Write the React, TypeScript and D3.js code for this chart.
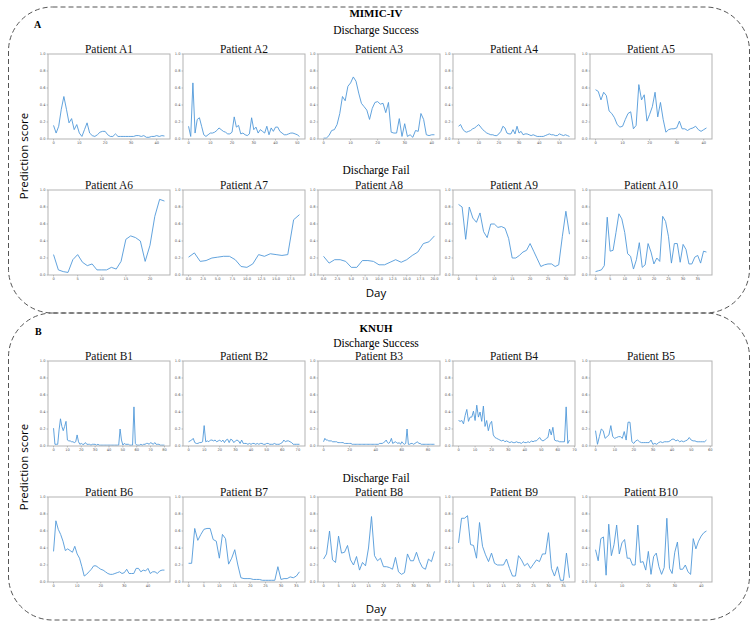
import * as d3 from "d3";

// Daily prediction scores, one array per patient
// MIMIC-IV, discharge success
const a1 = [0.16, 0.07, 0.15, 0.35, 0.5, 0.35, 0.19, 0.24, 0.11, 0.17, 0.07, 0.03, 0.11, 0.19, 0.07, 0.04, 0.03, 0.05, 0.08, 0.09, 0.09, 0.05, 0.03, 0.03, 0.06, 0.03, 0.03, 0.03, 0.03, 0.03, 0.03, 0.03, 0.04, 0.04, 0.03, 0.04, 0.02, 0.02, 0.03, 0.03, 0.04, 0.03, 0.04, 0.035];
const a2 = [0.15, 0.03, 0.66, 0.07, 0.23, 0.25, 0.15, 0.05, 0.03, 0.05, 0.07, 0.07, 0.08, 0.1, 0.13, 0.11, 0.09, 0.08, 0.06, 0.06, 0.08, 0.26, 0.14, 0.16, 0.06, 0.07, 0.05, 0.04, 0.06, 0.25, 0.11, 0.14, 0.07, 0.11, 0.09, 0.07, 0.15, 0.05, 0.13, 0.09, 0.14, 0.14, 0.09, 0.07, 0.05, 0.05, 0.06, 0.07, 0.07, 0.06, 0.05, 0.03];
const a3 = [0.01, 0.01, 0.04, 0.1, 0.11, 0.17, 0.3, 0.5, 0.45, 0.62, 0.66, 0.73, 0.68, 0.54, 0.42, 0.38, 0.34, 0.23, 0.36, 0.43, 0.44, 0.41, 0.42, 0.31, 0.43, 0.08, 0.07, 0.07, 0.24, 0.03, 0.18, 0.03, 0.05, 0.02, 0.1, 0.09, 0.3, 0.23, 0.05, 0.04, 0.05, 0.05];
const a4 = [0.15, 0.17, 0.12, 0.09, 0.08, 0.09, 0.1, 0.12, 0.13, 0.15, 0.17, 0.14, 0.11, 0.09, 0.07, 0.06, 0.05, 0.05, 0.04, 0.04, 0.06, 0.09, 0.15, 0.13, 0.07, 0.06, 0.06, 0.11, 0.06, 0.15, 0.07, 0.09, 0.05, 0.06, 0.06, 0.05, 0.04, 0.05, 0.04, 0.03, 0.03, 0.03, 0.03, 0.04, 0.05, 0.06, 0.05, 0.05, 0.04, 0.04, 0.06, 0.05, 0.04, 0.05, 0.04, 0.03];
const a5 = [0.58, 0.56, 0.46, 0.55, 0.51, 0.33, 0.3, 0.25, 0.17, 0.14, 0.15, 0.23, 0.3, 0.32, 0.12, 0.16, 0.64, 0.46, 0.52, 0.21, 0.29, 0.38, 0.55, 0.26, 0.43, 0.23, 0.08, 0.11, 0.12, 0.12, 0.13, 0.21, 0.12, 0.12, 0.1, 0.12, 0.13, 0.15, 0.11, 0.09, 0.11, 0.13];
// MIMIC-IV, discharge fail
const a6 = [0.24, 0.06, 0.04, 0.03, 0.18, 0.24, 0.15, 0.11, 0.13, 0.06, 0.06, 0.06, 0.09, 0.07, 0.16, 0.42, 0.46, 0.44, 0.4, 0.16, 0.35, 0.69, 0.89, 0.87];
const a7 = [0.21, 0.26, 0.16, 0.17, 0.2, 0.21, 0.22, 0.22, 0.18, 0.1, 0.09, 0.13, 0.24, 0.22, 0.25, 0.24, 0.23, 0.24, 0.65, 0.71];
const a8 = [0.22, 0.14, 0.18, 0.18, 0.16, 0.09, 0.09, 0.17, 0.17, 0.16, 0.12, 0.12, 0.15, 0.18, 0.15, 0.18, 0.23, 0.27, 0.37, 0.39, 0.46];
const a9 = [0.83, 0.8, 0.42, 0.8, 0.67, 0.62, 0.73, 0.51, 0.44, 0.6, 0.6, 0.56, 0.57, 0.55, 0.43, 0.2, 0.2, 0.23, 0.27, 0.29, 0.37, 0.28, 0.19, 0.1, 0.12, 0.13, 0.13, 0.1, 0.12, 0.45, 0.75, 0.48];
const a10 = [0.04, 0.05, 0.06, 0.11, 0.68, 0.28, 0.29, 0.5, 0.72, 0.66, 0.5, 0.25, 0.22, 0.07, 0.18, 0.38, 0.09, 0.12, 0.37, 0.27, 0.13, 0.2, 0.16, 0.69, 0.63, 0.45, 0.14, 0.37, 0.37, 0.15, 0.36, 0.3, 0.13, 0.13, 0.21, 0.23, 0.14, 0.28, 0.27];
// KNUH, discharge success
const b1 = [0.21, 0.02, 0.02, 0.02, 0.19, 0.32, 0.23, 0.18, 0.23, 0.29, 0.07, 0.06, 0.06, 0.05, 0.05, 0.04, 0.05, 0.13, 0.05, 0.02, 0.03, 0.02, 0.02, 0.04, 0.02, 0.02, 0.02, 0.01, 0.02, 0.02, 0.02, 0.01, 0.02, 0.01, 0.01, 0.01, 0.01, 0.01, 0.01, 0.01, 0.01, 0.01, 0.01, 0.01, 0.01, 0.01, 0.01, 0.01, 0.2, 0.07, 0.01, 0.03, 0.02, 0.02, 0.02, 0.01, 0.01, 0.01, 0.46, 0.03, 0.01, 0.01, 0.01, 0.02, 0.01, 0.02, 0.02, 0.03, 0.03, 0.02, 0.04, 0.03, 0.02, 0.04, 0.02, 0.02, 0.02, 0.01, 0.01, 0.01, 0.01];
const b2 = [0.05, 0.06, 0.07, 0.09, 0.04, 0.03, 0.03, 0.04, 0.04, 0.05, 0.24, 0.05, 0.06, 0.05, 0.07, 0.07, 0.06, 0.07, 0.05, 0.06, 0.07, 0.05, 0.07, 0.04, 0.07, 0.08, 0.04, 0.08, 0.07, 0.04, 0.06, 0.07, 0.06, 0.03, 0.07, 0.03, 0.03, 0.03, 0.02, 0.03, 0.02, 0.03, 0.03, 0.02, 0.03, 0.02, 0.03, 0.03, 0.02, 0.02, 0.03, 0.03, 0.02, 0.02, 0.02, 0.03, 0.02, 0.02, 0.02, 0.03, 0.04, 0.07, 0.05, 0.06, 0.06, 0.05, 0.04, 0.02, 0.02, 0.02, 0.02, 0.02];
const b3 = [0.05, 0.09, 0.07, 0.07, 0.06, 0.06, 0.06, 0.05, 0.05, 0.05, 0.05, 0.04, 0.04, 0.04, 0.04, 0.04, 0.03, 0.03, 0.03, 0.03, 0.03, 0.03, 0.02, 0.02, 0.02, 0.02, 0.02, 0.02, 0.02, 0.02, 0.02, 0.02, 0.02, 0.02, 0.02, 0.02, 0.02, 0.02, 0.02, 0.02, 0.02, 0.02, 0.02, 0.03, 0.03, 0.03, 0.04, 0.05, 0.07, 0.04, 0.03, 0.05, 0.09, 0.03, 0.04, 0.05, 0.04, 0.03, 0.04, 0.02, 0.05, 0.03, 0.02, 0.03, 0.2, 0.02, 0.02, 0.03, 0.03, 0.02, 0.03, 0.04, 0.05, 0.03, 0.03, 0.02, 0.02, 0.02, 0.02, 0.02, 0.02, 0.02, 0.02, 0.02, 0.02, 0.02];
const b4 = [0.3, 0.29, 0.3, 0.26, 0.36, 0.43, 0.29, 0.34, 0.34, 0.41, 0.3, 0.48, 0.34, 0.4, 0.29, 0.47, 0.23, 0.3, 0.18, 0.26, 0.29, 0.13, 0.1, 0.09, 0.08, 0.07, 0.06, 0.07, 0.05, 0.06, 0.05, 0.04, 0.05, 0.04, 0.04, 0.05, 0.04, 0.04, 0.03, 0.05, 0.04, 0.04, 0.05, 0.04, 0.06, 0.05, 0.06, 0.06, 0.08, 0.1, 0.07, 0.06, 0.07, 0.09, 0.1, 0.2, 0.13, 0.22, 0.07, 0.06, 0.06, 0.05, 0.05, 0.05, 0.05, 0.46, 0.03, 0.07];
const b5 = [0.18, 0.02, 0.11, 0.2, 0.18, 0.09, 0.11, 0.13, 0.24, 0.11, 0.09, 0.1, 0.11, 0.11, 0.09, 0.17, 0.07, 0.28, 0.28, 0.05, 0.03, 0.06, 0.07, 0.05, 0.04, 0.04, 0.04, 0.04, 0.04, 0.07, 0.02, 0.03, 0.02, 0.04, 0.05, 0.04, 0.05, 0.05, 0.05, 0.06, 0.08, 0.08, 0.06, 0.07, 0.05, 0.06, 0.05, 0.06, 0.07, 0.1, 0.07, 0.06, 0.06, 0.05, 0.05, 0.05, 0.05, 0.05, 0.07];
// KNUH, discharge fail
const b6 = [0.36, 0.72, 0.62, 0.56, 0.48, 0.37, 0.39, 0.37, 0.35, 0.42, 0.33, 0.28, 0.18, 0.07, 0.09, 0.12, 0.15, 0.19, 0.19, 0.17, 0.15, 0.14, 0.12, 0.1, 0.09, 0.09, 0.1, 0.11, 0.12, 0.1, 0.11, 0.15, 0.1, 0.1, 0.1, 0.16, 0.16, 0.12, 0.14, 0.13, 0.16, 0.1, 0.12, 0.12, 0.1, 0.13, 0.14, 0.14];
const b7 = [0.22, 0.22, 0.63, 0.49, 0.56, 0.62, 0.63, 0.63, 0.5, 0.48, 0.28, 0.56, 0.51, 0.21, 0.28, 0.38, 0.2, 0.05, 0.04, 0.04, 0.04, 0.03, 0.03, 0.03, 0.02, 0.02, 0.02, 0.02, 0.02, 0.18, 0.03, 0.04, 0.04, 0.06, 0.05, 0.07, 0.12];
const b8 = [0.27, 0.33, 0.6, 0.26, 0.23, 0.54, 0.34, 0.35, 0.43, 0.26, 0.2, 0.3, 0.14, 0.23, 0.19, 0.4, 0.77, 0.31, 0.25, 0.28, 0.18, 0.18, 0.17, 0.15, 0.29, 0.12, 0.09, 0.11, 0.33, 0.25, 0.25, 0.35, 0.24, 0.17, 0.15, 0.27, 0.24, 0.36];
const b9 = [0.46, 0.75, 0.75, 0.78, 0.44, 0.43, 0.28, 0.7, 0.42, 0.32, 0.24, 0.34, 0.22, 0.2, 0.2, 0.2, 0.27, 0.16, 0.07, 0.07, 0.31, 0.26, 0.19, 0.22, 0.16, 0.21, 0.26, 0.24, 0.33, 0.33, 0.58, 0.16, 0.07, 0.18, 0.02, 0.02, 0.34, 0.05];
const b10 = [0.38, 0.25, 0.51, 0.53, 0.08, 0.68, 0.31, 0.44, 0.67, 0.33, 0.46, 0.5, 0.28, 0.28, 0.2, 0.2, 0.67, 0.23, 0.24, 0.14, 0.36, 0.09, 0.3, 0.34, 0.18, 0.09, 0.17, 0.75, 0.16, 0.1, 0.35, 0.47, 0.15, 0.15, 0.2, 0.12, 0.09, 0.51, 0.39, 0.48, 0.54, 0.58, 0.6];

// x-axis tick values per subplot
const ticksTo40 = [0, 10, 20, 30, 40];
const ticksTo50 = [0, 10, 20, 30, 40, 50];
const ticksTo60 = [0, 10, 20, 30, 40, 50, 60];
const ticksTo70 = [0, 10, 20, 30, 40, 50, 60, 70];
const ticksTo80 = [0, 10, 20, 30, 40, 50, 60, 70, 80];
const ticksBy20 = [0, 20, 40, 60, 80];
const ticksBy5To20 = [0, 5, 10, 15, 20];
const ticksBy5To30 = [0, 5, 10, 15, 20, 25, 30];
const ticksBy5To35 = [0, 5, 10, 15, 20, 25, 30, 35];
const ticksHalf175 = [0, 2.5, 5, 7.5, 10, 12.5, 15, 17.5];
const ticksHalf20 = [0, 2.5, 5, 7.5, 10, 12.5, 15, 17.5, 20];

type PanelDef = { title: string; values: number[]; ticks: number[]; decimal?: boolean };

const rowA1: PanelDef[] = [
  { title: "Patient A1", values: a1, ticks: ticksTo40 },
  { title: "Patient A2", values: a2, ticks: ticksTo50 },
  { title: "Patient A3", values: a3, ticks: ticksTo40 },
  { title: "Patient A4", values: a4, ticks: ticksTo50 },
  { title: "Patient A5", values: a5, ticks: ticksTo40 },
];
const rowA2: PanelDef[] = [
  { title: "Patient A6", values: a6, ticks: ticksBy5To20 },
  { title: "Patient A7", values: a7, ticks: ticksHalf175, decimal: true },
  { title: "Patient A8", values: a8, ticks: ticksHalf20, decimal: true },
  { title: "Patient A9", values: a9, ticks: ticksBy5To30 },
  { title: "Patient A10", values: a10, ticks: ticksBy5To35 },
];
const rowB1: PanelDef[] = [
  { title: "Patient B1", values: b1, ticks: ticksTo80 },
  { title: "Patient B2", values: b2, ticks: ticksTo70 },
  { title: "Patient B3", values: b3, ticks: ticksBy20 },
  { title: "Patient B4", values: b4, ticks: ticksTo70 },
  { title: "Patient B5", values: b5, ticks: ticksTo60 },
];
const rowB2: PanelDef[] = [
  { title: "Patient B6", values: b6, ticks: ticksTo40 },
  { title: "Patient B7", values: b7, ticks: ticksBy5To35 },
  { title: "Patient B8", values: b8, ticks: ticksBy5To35 },
  { title: "Patient B9", values: b9, ticks: ticksBy5To35 },
  { title: "Patient B10", values: b10, ticks: ticksTo40 },
];

const W = 752;
const H = 629;
const COLS = [48, 183, 318, 453, 590];
const PW = 122;
const PH = 85;
const SERIF = "'Liberation Serif', 'Times New Roman', serif";
const SANS = "'Open Sans', 'DejaVu Sans', sans-serif";
const TICK_FONT = "'DejaVu Sans', sans-serif";
const LINE = "#5099d9";

function Panel({ x, y, def }: { x: number; y: number; def: PanelDef }) {
  const n = def.values.length - 1;
  const pad = n * 0.05; // matplotlib-style 5% margins
  const xs = d3.scaleLinear().domain([-pad, n + pad]).range([0, PW]);
  const ys = d3.scaleLinear().domain([0, 1]).range([PH, 0]);
  const line = d3
    .line<number>()
    .x((_, i) => xs(i))
    .y((d) => ys(d));
  const fx = def.decimal ? d3.format(".1f") : d3.format("d");
  const fy = d3.format(".1f");

  return (
    <g transform={`translate(${x},${y})`}>
      <text x={PW / 2} y={-1.5} textAnchor="middle" fontFamily={SERIF} fontSize={11.5} fill="#111">
        {def.title}
      </text>
      <path d={line(def.values) ?? ""} fill="none" stroke={LINE} strokeWidth={0.9} strokeLinejoin="round" />
      <rect x={0} y={0} width={PW} height={PH} fill="none" stroke="#b3b3b3" strokeWidth={1} />
      {ys.ticks(5).map((t) => (
        <g key={`y${t}`} transform={`translate(0,${ys(t)})`}>
          <line x1={-1.5} x2={0} stroke="#777" strokeWidth={0.4} />
          <text x={-2.5} dy="0.35em" textAnchor="end" fontFamily={TICK_FONT} fontSize={3.6} fill="#555">
            {fy(t)}
          </text>
        </g>
      ))}
      {def.ticks.map((t) => (
        <g key={`x${t}`} transform={`translate(${xs(t)},${PH})`}>
          <line y1={0} y2={1.5} stroke="#777" strokeWidth={0.4} />
          <text y={5} textAnchor="middle" fontFamily={TICK_FONT} fontSize={3.6} fill="#555">
            {fx(t)}
          </text>
        </g>
      ))}
    </g>
  );
}

function Row({ top, defs }: { top: number; defs: PanelDef[] }) {
  return (
    <g>
      {defs.map((d, i) => (
        <Panel key={d.title} x={COLS[i]} y={top} def={d} />
      ))}
    </g>
  );
}

export default function App() {
  const cx = 376;
  return (
    <svg width={W} height={H} style={{ position: "absolute", left: 0, top: 0, background: "#fff" }}>
      {/* dashed group frames */}
      <rect x={8.5} y={7} width={741} height={306} rx={44} fill="none" stroke="#555" strokeWidth={1} strokeDasharray="5 3" />
      <rect x={8.5} y={313} width={741} height={307} rx={44} fill="none" stroke="#555" strokeWidth={1} strokeDasharray="5 3" />

      {/* section A */}
      <text x={34} y={28} fontFamily={SERIF} fontWeight="bold" fontSize={10}>A</text>
      <text x={cx} y={17} textAnchor="middle" fontFamily={SERIF} fontWeight="bold" fontSize={11}>MIMIC-IV</text>
      <text x={cx} y={34} textAnchor="middle" fontFamily={SERIF} fontSize={11.5}>Discharge Success</text>
      <Row top={54} defs={rowA1} />
      <text x={cx} y={174} textAnchor="middle" fontFamily={SERIF} fontSize={11.5}>Discharge Fail</text>
      <Row top={190} defs={rowA2} />
      <text x={cx} y={297} textAnchor="middle" fontFamily={SANS} fontSize={11.5}>Day</text>
      <text transform="translate(28,156) rotate(-90)" textAnchor="middle" fontFamily={SANS} fontSize={11.5}>
        Prediction score
      </text>

      {/* section B */}
      <text x={35} y={335} fontFamily={SERIF} fontWeight="bold" fontSize={10}>B</text>
      <text x={cx} y={332} textAnchor="middle" fontFamily={SERIF} fontWeight="bold" fontSize={11}>KNUH</text>
      <text x={cx} y={347} textAnchor="middle" fontFamily={SERIF} fontSize={11.5}>Discharge Success</text>
      <Row top={361} defs={rowB1} />
      <text x={cx} y={482} textAnchor="middle" fontFamily={SERIF} fontSize={11.5}>Discharge Fail</text>
      <Row top={497} defs={rowB2} />
      <text x={cx} y={613} textAnchor="middle" fontFamily={SANS} fontSize={11.5}>Day</text>
      <text transform="translate(28,467) rotate(-90)" textAnchor="middle" fontFamily={SANS} fontSize={11.5}>
        Prediction score
      </text>
    </svg>
  );
}
